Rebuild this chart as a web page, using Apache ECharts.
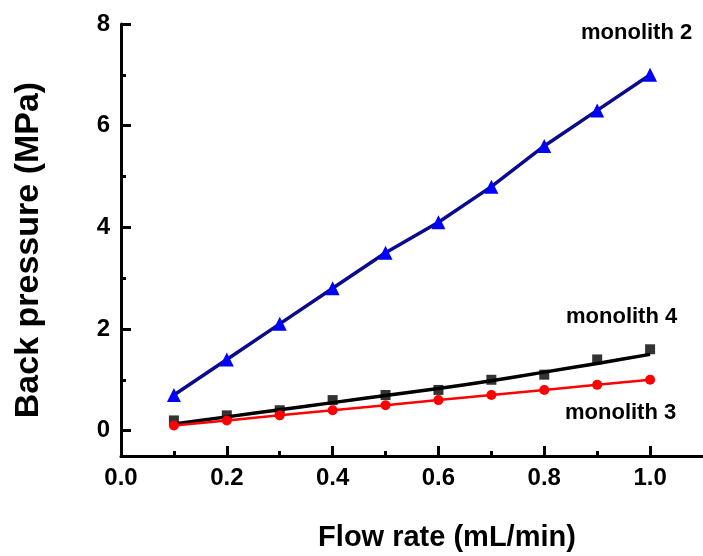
<!DOCTYPE html>
<html><head><meta charset="utf-8">
<script src="https://cdn.jsdelivr.net/npm/echarts@6/dist/echarts.min.js"></script>
<style>html,body{margin:0;padding:0;background:#fff}#c{width:703px;height:556px}</style>
</head><body><div id="c"></div><script>
const flowRate = [0.1, 0.2, 0.3, 0.4, 0.5, 0.6, 0.7, 0.8, 0.9, 1.0];
const monolith2 = [0.7, 1.4, 2.1, 2.8, 3.5, 4.1, 4.8, 5.6, 6.3, 7.0];
const monolith4 = [0.2, 0.3, 0.4, 0.6, 0.7, 0.8, 1.0, 1.1, 1.4, 1.6];
const monolith4Fit = [0.13, 0.27, 0.41, 0.55, 0.69, 0.83, 0.98, 1.15, 1.32, 1.5];
const monolith3 = [0.1, 0.2, 0.3, 0.4, 0.5, 0.6, 0.7, 0.8, 0.9, 1.0];
const xMajorTicks = [0, 0.2, 0.4, 0.6, 0.8, 1.0];
const xMinorTicks = [0.1, 0.3, 0.5, 0.7, 0.9];
const yMajorTicks = [0, 2, 4, 6, 8];
const yMinorTicks = [1, 3, 5, 7];
const seriesLabels = ['monolith 2', 'monolith 4', 'monolith 3'];
const xTitle = 'Flow rate (mL/min)';
const yTitle = 'Back pressure (MPa)';

const pairs = arr => flowRate.map((x, i) => [x, arr[i]]);
const FONT = '"Liberation Sans", Arial, sans-serif';
const chart = echarts.init(document.getElementById('c'), null, {renderer: 'canvas'});

const xBase = {type: 'value', min: 0, max: 1.1, gridIndex: 0, position: 'bottom', splitLine: {show: false}};
const yBase = {type: 'value', min: -0.5, max: 8, gridIndex: 0, position: 'left', splitLine: {show: false}};
const tickAxis = (base, vals, len) => Object.assign({}, base, {
  axisLine: {show: false, onZero: false},
  axisTick: {show: true, inside: true, length: len, customValues: vals, lineStyle: {color: '#000', width: 3}},
  axisLabel: {show: false}
});
const labelStyle = {color: '#000', fontFamily: FONT, fontWeight: 'bold', fontSize: 24};

chart.setOption({
  animation: false,
  backgroundColor: '#fff',
  grid: {left: 121, right: 0, top: 24, bottom: 100},
  xAxis: [
    Object.assign({}, xBase, {
      axisLine: {show: true, onZero: false, lineStyle: {color: '#000', width: 3}},
      axisTick: {show: false},
      axisLabel: Object.assign({show: true, customValues: xMajorTicks, margin: 10, formatter: v => v.toFixed(1)}, labelStyle)
    }),
    tickAxis(xBase, xMajorTicks, 10),
    tickAxis(xBase, xMinorTicks, 5)
  ],
  yAxis: [
    Object.assign({}, yBase, {
      axisLine: {show: true, onZero: false, lineStyle: {color: '#000', width: 3}},
      axisTick: {show: false},
      axisLabel: Object.assign({show: true, customValues: yMajorTicks, margin: 11, formatter: v => String(v)}, labelStyle)
    }),
    tickAxis(yBase, yMajorTicks, 10),
    tickAxis(yBase, yMinorTicks, 5)
  ],
  series: [
    {
      name: seriesLabels[1] + ' fit', type: 'line', data: pairs(monolith4Fit), smooth: 0.3,
      showSymbol: false, symbol: 'none', lineStyle: {color: '#000', width: 3.5}, z: 2
    },
    {
      name: seriesLabels[1], type: 'scatter', data: pairs(monolith4),
      symbol: 'rect', symbolSize: 10, itemStyle: {color: '#000'}, z: 3
    },
    {
      name: seriesLabels[2], type: 'line', data: pairs(monolith3),
      symbol: 'circle', symbolSize: 10, showAllSymbol: true,
      lineStyle: {color: '#ff0000', width: 2.5}, itemStyle: {color: '#ff0000', borderWidth: 0}, z: 4
    },
    {
      name: seriesLabels[0], type: 'line', data: pairs(monolith2),
      symbol: 'triangle', symbolSize: 14, showAllSymbol: true,
      lineStyle: {color: '#0a0a8c', width: 3.5}, itemStyle: {color: '#0000ff', borderWidth: 0}, z: 5
    }
  ],
  graphic: [
    {type: 'text', left: 581, top: 22, style: {text: seriesLabels[0], font: 'bold 22px ' + FONT, fill: '#000'}},
    {type: 'text', left: 566, top: 306, style: {text: seriesLabels[1], font: 'bold 22px ' + FONT, fill: '#000'}},
    {type: 'text', left: 565, top: 402, style: {text: seriesLabels[2], font: 'bold 22px ' + FONT, fill: '#000'}},
    {type: 'text', x: 447, y: 538, style: {text: xTitle, font: 'bold 29px ' + FONT, fill: '#000', textAlign: 'center', textVerticalAlign: 'middle'}},
    {type: 'text', x: 29, y: 250, rotation: Math.PI / 2, style: {text: yTitle, font: 'bold 34px ' + FONT, fill: '#000', textAlign: 'center', textVerticalAlign: 'middle'}}
  ]
});
</script></body></html>
